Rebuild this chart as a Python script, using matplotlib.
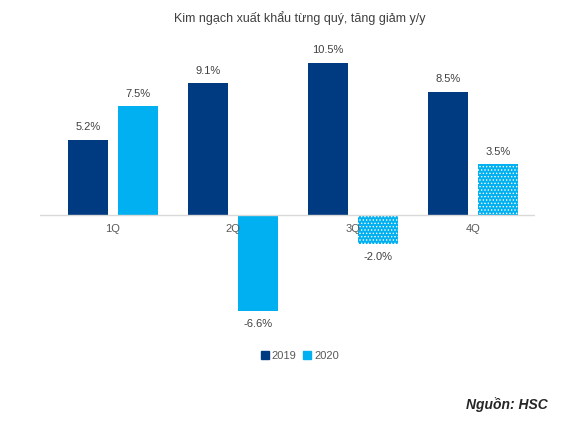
import matplotlib
matplotlib.use("Agg")
import matplotlib.pyplot as plt
import numpy as np
from matplotlib.patches import Patch

plt.rcParams['font.family'] = ['Liberation Sans', 'DejaVu Sans']
plt.rcParams['hatch.color'] = 'white'
plt.rcParams['hatch.linewidth'] = 0.6

categories = ['1Q', '2Q', '3Q', '4Q']
v2019 = [5.2, 9.1, 10.5, 8.5]
v2020 = [7.5, -6.6, -2.0, 3.5]
hatched2020 = [False, False, True, True]

W, H = 572, 428
fig = plt.figure(figsize=(W/100, H/100), dpi=100)
ax = fig.add_axes([40/W, 1-335/H, (535-40)/W, (335-40)/H])
x = np.arange(len(categories))
bw = 40/120
off = bw/2 + 5/120
dark, light = '#003A80', '#00B0F0'
ax.bar(x - off, v2019, bw, color=dark)
for i, v in enumerate(v2020):
    ax.bar(x[i] + off, v, bw, color=light,
           hatch='.....' if hatched2020[i] else None, linewidth=0)
for i in range(len(x)):
    for xo, v in ((x[i] - off, v2019[i]), (x[i] + off, v2020[i])):
        d = 0.5 if v >= 0 else -0.55
        ax.text(xo, v + d, f"{v:.1f}%", ha='center', va='bottom' if v >= 0 else 'top',
                fontsize=8, color='#404040')
    ax.text(x[i], -0.6, categories[i], ha='center', va='top', fontsize=8, color='#595959')
ax.axhline(0, color='#D9D9D9', lw=1)
ax.set_xlim((40-113)/120, (535-113)/120)
ax.set_ylim(-(335-215)/14.5, (215-40)/14.5)
ax.axis('off')
fig.text(300/W, 1-18/H, 'Kim ngạch xuất khẩu từng quý, tăng giảm y/y', ha='center', va='center',
         fontsize=9, color='#404040')
fig.legend(handles=[Patch(color=dark, label='2019'), Patch(color=light, label='2020')],
           loc='center', bbox_to_anchor=(300/W, 1-356/H), ncol=2, frameon=False,
           fontsize=8, handlelength=0.7, handleheight=0.7, columnspacing=0.6, handletextpad=0.3,
           labelcolor='#595959')
fig.text(548/W, 1-405/H, 'Nguồn: HSC', ha='right', va='center', fontsize=10,
         fontweight='bold', style='italic', color='#262626')
fig.savefig('out.png', dpi=100)
